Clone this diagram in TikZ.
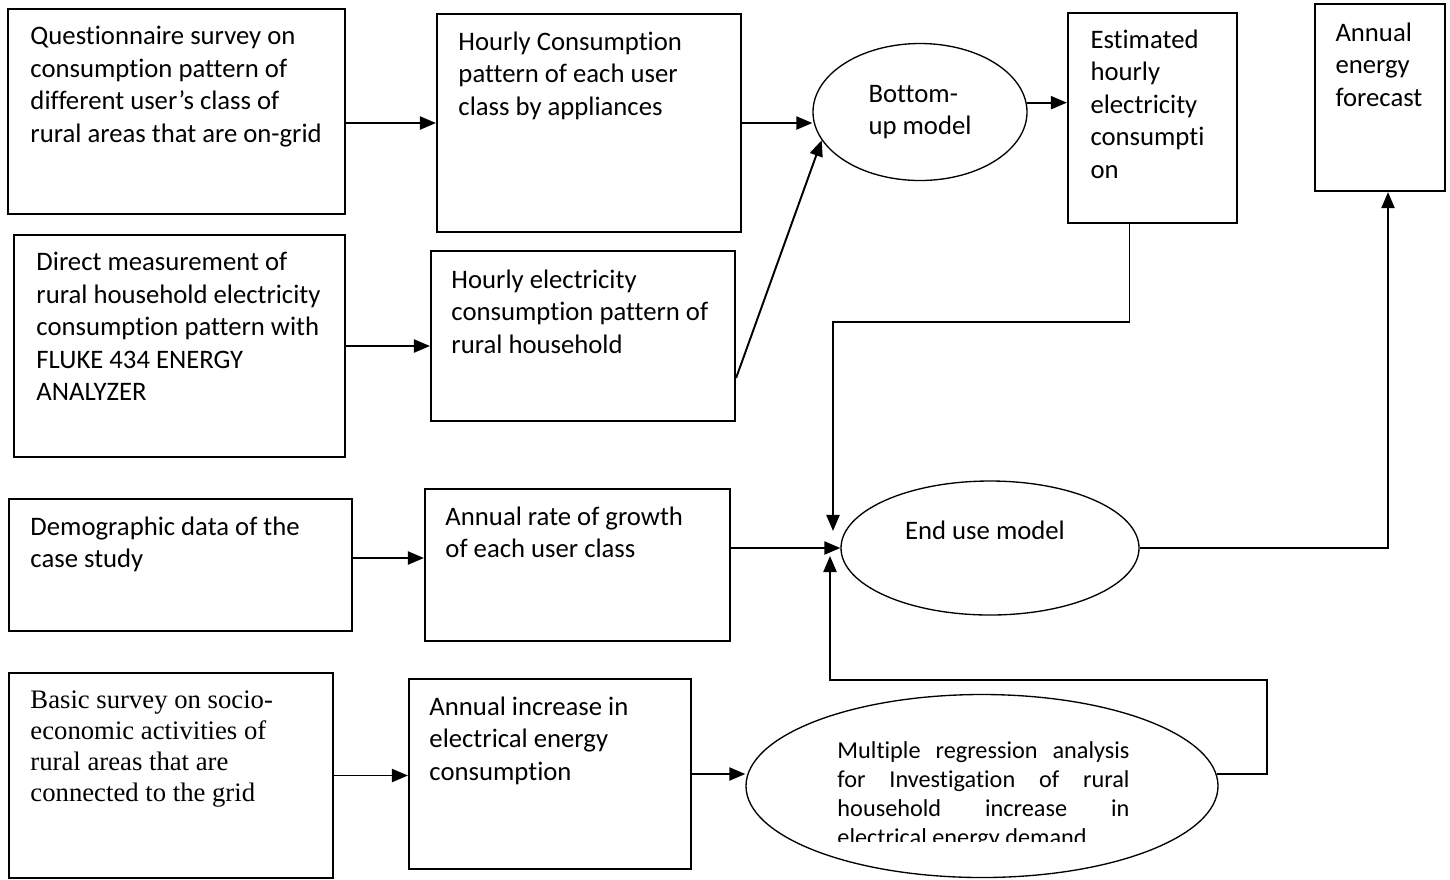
\documentclass[tikz,border=0pt]{standalone}
\usepackage{fontspec}
\setmainfont{Carlito}[Ligatures=CommonOff]
\newfontfamily\timesfont{Liberation Serif}
\usetikzlibrary{arrows.meta,fit,shapes.geometric}
\def\px{0.412pt}

\begin{document}
\begin{tikzpicture}[x=\px,y=-\px,every node/.style={font=\fontsize{11}{13.4}\selectfont,inner sep=0pt},
  blk/.style={draw,line width=.9pt},
  oval/.style={draw,ellipse,line width=.55pt},
  txt/.style={anchor=north west,align=left},
  arr/.style={line width=.8pt,-{Triangle[length=6.6pt,width=5.4pt]}}]
\useasboundingbox (0,0) rectangle (1450,879);
\node[blk,fit={(8,9)(345,214)}] (qsurv) {};
\node[txt] (qsurvT) at (30,26) {Questionnaire survey on\\consumption pattern of\\different user’s class of\\rural areas that are on-grid};
\node[blk,fit={(437,14)(741,232)}] (hcons) {};
\node[txt] (hconsT) at (458,31) {Hourly Consumption\\pattern of each user\\class by appliances};
\node[oval,minimum width=214*\px,minimum height=137*\px,align=left] (bup) at (920,112) {Bottom-\\up model};
\node[blk,fit={(1068,13)(1237,223)}] (esth) {};
\node[txt] (esthT) at (1090,29) {Estimated\\hourly\\electricity\\consumpti\\on};
\node[blk,fit={(1315,4)(1445,191)}] (afore) {};
\node[txt] (aforeT) at (1335,22) {Annual\\energy\\forecast};

\node[blk,fit={(14,235)(345,457)}] (dmeas) {};
\node[txt] (dmeasT) at (36,252) {Direct measurement of\\rural household electricity\\consumption pattern with\\FLUKE 434 ENERGY\\ANALYZER};
\node[blk,fit={(431,251)(735,421)}] (helec) {};
\node[txt] (helecT) at (451,269) {Hourly electricity\\consumption pattern of\\rural household};

\node[blk,fit={(9,499)(352,631)}] (demo) {};
\node[txt] (demoT) at (30,516) {Demographic data of the\\case study};
\node[blk,fit={(425,489)(730,641)}] (rgrow) {};
\node[txt] (rgrowT) at (445,506) {Annual rate of growth\\of each user class};
\node[oval,minimum width=298*\px,minimum height=134*\px] (euse) at (990,548) {};
\node (euseT) at (985,530) {End use model};
\coordinate (euIn) at (833,531);
\coordinate (euUp) at (830,556);

\node[blk,fit={(9,673)(333,878)}] (basic) {};
\node[txt,font=\timesfont\fontsize{11}{12.8}\selectfont] (basicT) at (30,690) {Basic survey on socio-\\economic activities of\\rural areas that are\\connected to the grid};
\node[blk,fit={(409,679)(691,869)}] (ainc) {};
\node[txt] (aincT) at (429,696) {Annual increase in\\electrical energy\\consumption};
\node[oval,minimum width=472*\px,minimum height=183*\px] (mreg) at (982,786) {};
\begin{scope}
\clip (820,735) rectangle (1150,841);
\node[txt,text width=292*\px,align=justify,font=\fontsize{10}{11.9}\selectfont] (mregT) at (837,741) {Multiple regression analysis\linebreak for Investigation of rural\linebreak household increase in\linebreak electrical energy demand};
\end{scope}

\draw[arr] (qsurv.east |- hcons.west) -- (hcons.west);
\draw[arr] (hcons.east) -- (hcons.east -| bup.west);
\draw[arr] ([yshift=-42*\px]helec.east) -- (bup.196);
\draw[arr] (bup.5) -- (bup.5 -| esth.west);
\draw[arr] (dmeas.east) -- (dmeas.east -| helec.west);
\draw[arr] ([xshift=-23*\px]esth.south) -- ++(0,98) -| (euIn);
\draw[arr] ([yshift=7*\px]demo.east) -- ([yshift=7*\px]demo.east -| rgrow.west);
\draw[arr] (rgrow.east |- euse.west) -- (euse.west);
\draw[arr] (euse.east) -| ([xshift=8*\px]afore.south);
\draw[arr] (basic.east) -- (basic.east -| ainc.west);
\draw[arr] (ainc.east) -- (ainc.east -| mreg.west);
\draw[arr] (mreg.3) -- ++(50,0) -- ++(0,-94) -| (euUp);
\end{tikzpicture}
\end{document}
